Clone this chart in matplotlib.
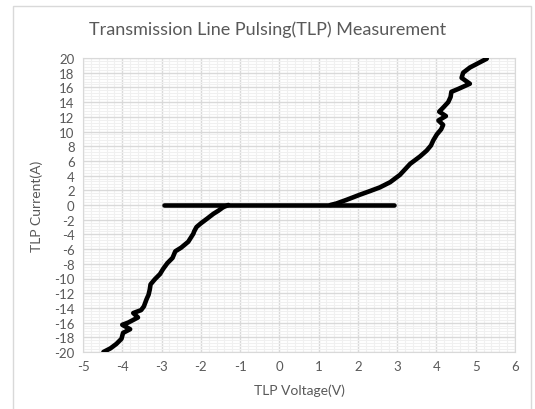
import numpy as np
import matplotlib.pyplot as plt
from matplotlib.ticker import MultipleLocator
from matplotlib.patches import Rectangle

# TLP curve, negative branch (V, A)
neg_v = [-1.30, -1.43, -1.56, -1.68, -1.85, -2.00, -2.11, -2.17, -2.19, -2.32, -2.50,
         -2.65, -2.72, -2.85, -2.96, -3.04, -3.17, -3.28, -3.30, -3.33, -3.38, -3.45,
         -3.52, -3.72, -3.60, -3.85, -4.00, -3.80, -3.98, -4.02, -4.15, -4.30, -4.48]
neg_i = [0.0, -0.3, -0.8, -1.2, -1.9, -2.5, -3.0, -3.6, -3.9, -5.0, -5.8,
         -6.3, -7.2, -7.9, -8.7, -9.4, -10.1, -10.8, -11.5, -12.2, -12.8, -13.8,
         -14.3, -14.7, -15.3, -16.0, -16.3, -16.9, -17.4, -18.2, -18.9, -19.5, -20.0]

# positive branch
pos_v = [1.30, 1.45, 1.71, 2.05, 2.31, 2.56, 2.82, 3.07, 3.33, 3.58, 3.75, 3.86, 3.92,
         4.01, 4.12, 4.17, 4.05, 4.24, 4.07, 4.18, 4.30, 4.36, 4.38, 4.56, 4.85, 4.64,
         4.68, 4.85, 5.10, 5.28]
pos_i = [0.0, 0.2, 0.7, 1.4, 1.9, 2.4, 3.1, 4.1, 5.6, 6.6, 7.4, 8.1, 8.8,
         9.6, 10.3, 10.9, 11.5, 12.1, 12.7, 13.3, 14.0, 14.7, 15.4, 15.8, 16.5, 17.3,
         18.0, 18.7, 19.4, 19.9]

# off-state line
off_v = [-2.94, 2.92]
off_i = [0.0, 0.0]

plt.rcParams['font.family'] = ['Lato', 'DejaVu Sans']
plt.rcParams['axes.unicode_minus'] = False

fig = plt.figure(figsize=(5.35, 4.10), dpi=100)
fig.patches.append(Rectangle((13/535, -0.01), (531-13)/535, 1 - 7/410 + 0.01,
                             transform=fig.transFigure, fill=False,
                             edgecolor='#d9d9d9', linewidth=1))
ax = fig.add_axes([83/535, 1-353/410, (515-83)/535, (353-59)/410])

lw = 3.3
for xs, ys in [(off_v, off_i), (neg_v, neg_i), (pos_v, pos_i)]:
    ax.plot(xs, ys, color='black', lw=lw, solid_capstyle='round',
            solid_joinstyle='round', zorder=3)

ax.set_xlim(-5, 6)
ax.set_ylim(-20, 20)
ax.xaxis.set_major_locator(MultipleLocator(1))
ax.xaxis.set_minor_locator(MultipleLocator(0.2))
ax.yaxis.set_major_locator(MultipleLocator(2))
ax.yaxis.set_minor_locator(MultipleLocator(0.4))
ax.grid(which='major', color='#d9d9d9', lw=1)
ax.grid(which='minor', color='#f0f0f0', lw=0.8)
ax.set_axisbelow(True)
ax.tick_params(which='both', length=0, labelsize=9.5, labelcolor='#595959', pad=6)
for s in ax.spines.values():
    s.set_color('#d9d9d9')

ax.set_xlabel('TLP Voltage(V)', fontsize=10, color='#595959', labelpad=8)
ax.set_ylabel('TLP Current(A)', fontsize=10, color='#595959', labelpad=8)
fig.text(0.5, 1-30/410, 'Transmission Line Pulsing(TLP) Measurement',
         ha='center', va='center', fontsize=13, color='#595959')

fig.savefig('out.png', dpi=100)
